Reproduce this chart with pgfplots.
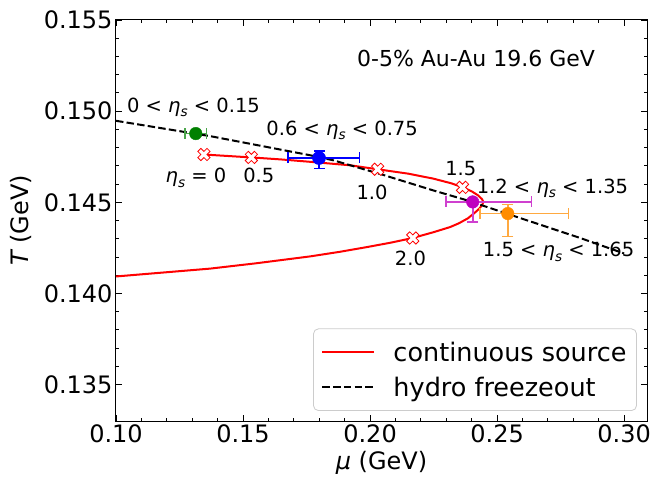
\documentclass[border=0pt]{standalone}
\usepackage{fontspec}
\setmainfont{DejaVu Sans}
\usepackage{graphicx}
\usepackage{pgfplots}
\pgfplotsset{compat=1.18}

\definecolor{mplgreen}{RGB}{0,128,0}
\definecolor{mplmag}{RGB}{191,0,191}
\definecolor{mplorange}{RGB}{255,140,0}

\pgfdeclareplotmark{Xo}{%
  \pgfpathmoveto{\pgfqpoint{0.4714\pgfplotmarksize}{0.9428\pgfplotmarksize}}%
  \pgfpathlineto{\pgfqpoint{0pt}{0.4714\pgfplotmarksize}}%
  \pgfpathlineto{\pgfqpoint{-0.4714\pgfplotmarksize}{0.9428\pgfplotmarksize}}%
  \pgfpathlineto{\pgfqpoint{-0.9428\pgfplotmarksize}{0.4714\pgfplotmarksize}}%
  \pgfpathlineto{\pgfqpoint{-0.4714\pgfplotmarksize}{0pt}}%
  \pgfpathlineto{\pgfqpoint{-0.9428\pgfplotmarksize}{-0.4714\pgfplotmarksize}}%
  \pgfpathlineto{\pgfqpoint{-0.4714\pgfplotmarksize}{-0.9428\pgfplotmarksize}}%
  \pgfpathlineto{\pgfqpoint{0pt}{-0.4714\pgfplotmarksize}}%
  \pgfpathlineto{\pgfqpoint{0.4714\pgfplotmarksize}{-0.9428\pgfplotmarksize}}%
  \pgfpathlineto{\pgfqpoint{0.9428\pgfplotmarksize}{-0.4714\pgfplotmarksize}}%
  \pgfpathlineto{\pgfqpoint{0.4714\pgfplotmarksize}{0pt}}%
  \pgfpathlineto{\pgfqpoint{0.9428\pgfplotmarksize}{0.4714\pgfplotmarksize}}%
  \pgfpathclose
  \pgfusepathqfillstroke
}

\newcommand{\es}{{\itshape η}\raisebox{-0.22em}{\scalebox{0.7}{\itshape s}}}

\pgfplotstableread{
x y
0.1346 0.14762
0.1533 0.14746
0.1650 0.14735
0.1764 0.14722
0.1921 0.14703
0.2030 0.14681
0.2150 0.14657
0.2248 0.14630
0.2320 0.14604
0.2364 0.14582
0.2400 0.14560
0.2425 0.14538
0.2440 0.14518
0.2446 0.14503
0.2442 0.14487
0.2430 0.14465
0.2410 0.14440
0.2385 0.14412
0.2350 0.14385
0.2315 0.14364
0.2250 0.14336
0.2168 0.14304
0.2080 0.14278
0.1987 0.14254
0.1880 0.14228
0.1764 0.14203
0.1550 0.14165
0.1370 0.14136
0.1000 0.14093
}\contsource

\pgfplotstableread{
x y
0.1000 0.14947
0.1370 0.14863
0.1764 0.14758
0.1856 0.14730
0.2052 0.14650
0.2249 0.14565
0.2381 0.14511
0.2538 0.14438
0.2827 0.14304
0.3000 0.14219
}\hydro

\pgfplotstableread{
x y
0.1346 0.14762
0.1533 0.14746
0.2030 0.14681
0.2364 0.14582
0.2168 0.14304
}\etamarks

\begin{document}
\begin{tikzpicture}
\path[use as bounding box] (-116pt,-56pt) rectangle (534pt,421pt);
\begin{axis}[
  at={(0pt,0pt)}, anchor=south west,
  scale only axis, width=531pt, height=401pt,
  xmin=0.10, xmax=0.309, ymin=0.133, ymax=0.155,
  xtick={0.10,0.15,0.20,0.25,0.30},
  ytick={0.135,0.140,0.145,0.150,0.155},
  minor x tick num=4, minor y tick num=4,
  tick align=inside, xtick pos=both, ytick pos=both,
  major tick length=6pt, minor tick length=3pt,
  every tick/.style={black, line width=0.9pt},
  axis line style={line width=1pt},
  scaled ticks=false,
  xticklabel style={/pgf/number format/.cd, fixed, fixed zerofill, precision=2},
  yticklabel style={/pgf/number format/.cd, fixed, fixed zerofill, precision=3},
  /pgf/number format/assume math mode=true,
  tick label style={font=\fontsize{24}{28}\selectfont},
  label style={font=\fontsize{24}{28}\selectfont},
  xlabel={{\itshape μ} (GeV)},
  ylabel={{\itshape T} (GeV)},
  xlabel style={at={(axis description cs:0.5,-0.105)}, anchor=center},
  ylabel style={at={(axis description cs:-0.179,0.5)}, anchor=center},
  legend style={at={(0.981,0.025)}, anchor=south east, draw=black!20,
    rounded corners=5pt, line width=0.8pt, fill=white,
    font=\fontsize{25.5}{30}\selectfont, inner xsep=8pt, inner ysep=11pt,
    row sep=10pt, column sep=16pt},
  legend cell align=left,
  legend image code/.code={\draw[#1] (0pt,0pt) -- (52pt,0pt);},
]
\addplot[red, line width=2pt] table[x=x,y=y] {\contsource};
\addlegendentry{continuous source}
\addplot[black, line width=2pt, dash pattern=on 7.5pt off 3.2pt] table[x=x,y=y] {\hydro};
\addlegendentry{hydro freezeout}

\addplot[only marks, mark=Xo, mark size=6.5pt, red, line width=0.8pt,
  mark options={fill=white}, forget plot] table[x=x,y=y] {\etamarks};

% green
\addplot[only marks, mark=*, mark size=6.3pt, color=mplgreen, forget plot,
  error bars/.cd, x dir=both, x explicit, y dir=none, error mark=none,
  error bar style={mplgreen!70!white, line width=1.6pt}]
  coordinates {(0.1314,0.14877) +- (0.0042,0)};
\addplot[only marks, mark=|, mark size=5.5pt, color=mplgreen!70!white, line width=1.6pt, forget plot]
  coordinates {(0.1272,0.14877) (0.1356,0.14877)};

% blue
\addplot[only marks, mark=|, mark size=5.5pt, color=blue, line width=1.6pt, forget plot]
  coordinates {(0.1676,0.14743) (0.1958,0.14743)};
\addplot[only marks, mark=-, mark size=5.5pt, color=blue, line width=1.6pt, forget plot]
  coordinates {(0.1799,0.14780) (0.1799,0.14685)};
\addplot[only marks, mark=*, mark size=6.6pt, color=blue, forget plot,
  error bars/.cd, x dir=both, x explicit, y dir=both, y explicit, error mark=none,
  error bar style={blue, line width=1.6pt}]
  coordinates {(0.1799,0.14743) += (0.0159,0.00037) -= (0.0123,0.00058)};

% magenta
\addplot[only marks, mark=|, mark size=5.5pt, color=mplmag!75!white, line width=1.6pt, forget plot]
  coordinates {(0.2299,0.14502) (0.2636,0.14502)};
\addplot[only marks, mark=-, mark size=5.5pt, color=mplmag!75!white, line width=1.6pt, forget plot]
  coordinates {(0.2404,0.14393)};
\addplot[only marks, mark=*, mark size=6.3pt, color=mplmag, forget plot,
  error bars/.cd, x dir=both, x explicit, y dir=both, y explicit, error mark=none,
  error bar style={mplmag!75!white, line width=1.6pt}]
  coordinates {(0.2404,0.14502) += (0.0232,0.00005) -= (0.0105,0.00109)};

% orange
\addplot[only marks, mark=|, mark size=5.5pt, color=mplorange!75!white, line width=1.6pt, forget plot]
  coordinates {(0.2433,0.14438) (0.2781,0.14438)};
\addplot[only marks, mark=-, mark size=5.5pt, color=mplorange!75!white, line width=1.6pt, forget plot]
  coordinates {(0.2542,0.14487) (0.2542,0.14313)};
\addplot[only marks, mark=*, mark size=6.3pt, color=mplorange, forget plot,
  error bars/.cd, x dir=both, x explicit, y dir=both, y explicit, error mark=none,
  error bar style={mplorange!75!white, line width=1.6pt}]
  coordinates {(0.2542,0.14438) += (0.0239,0.00049) -= (0.0109,0.00125)};

\node[anchor=base, font=\fontsize{22}{26}\selectfont] at (axis cs:0.2417,0.15247) {0-5\% Au-Au 19.6 GeV};
\begin{scope}[every node/.style={anchor=base, font=\fontsize{19.5}{24}\selectfont}]
\node at (axis cs:0.1305,0.14994) {0 < \es{} < 0.15};
\node at (axis cs:0.1890,0.14868) {0.6 < \es{} < 0.75};
\node at (axis cs:0.1315,0.14606) {\es{} = 0};
\node at (axis cs:0.1562,0.14606) {0.5};
\node at (axis cs:0.2008,0.14515) {1.0};
\node at (axis cs:0.2357,0.14648) {1.5};
\node at (axis cs:0.2718,0.14548) {1.2 < \es{} < 1.35};
\node at (axis cs:0.2742,0.14200) {1.5 < \es{} < 1.65};
\node at (axis cs:0.2159,0.14154) {2.0};
\end{scope}
\end{axis}
\end{tikzpicture}
\end{document}
